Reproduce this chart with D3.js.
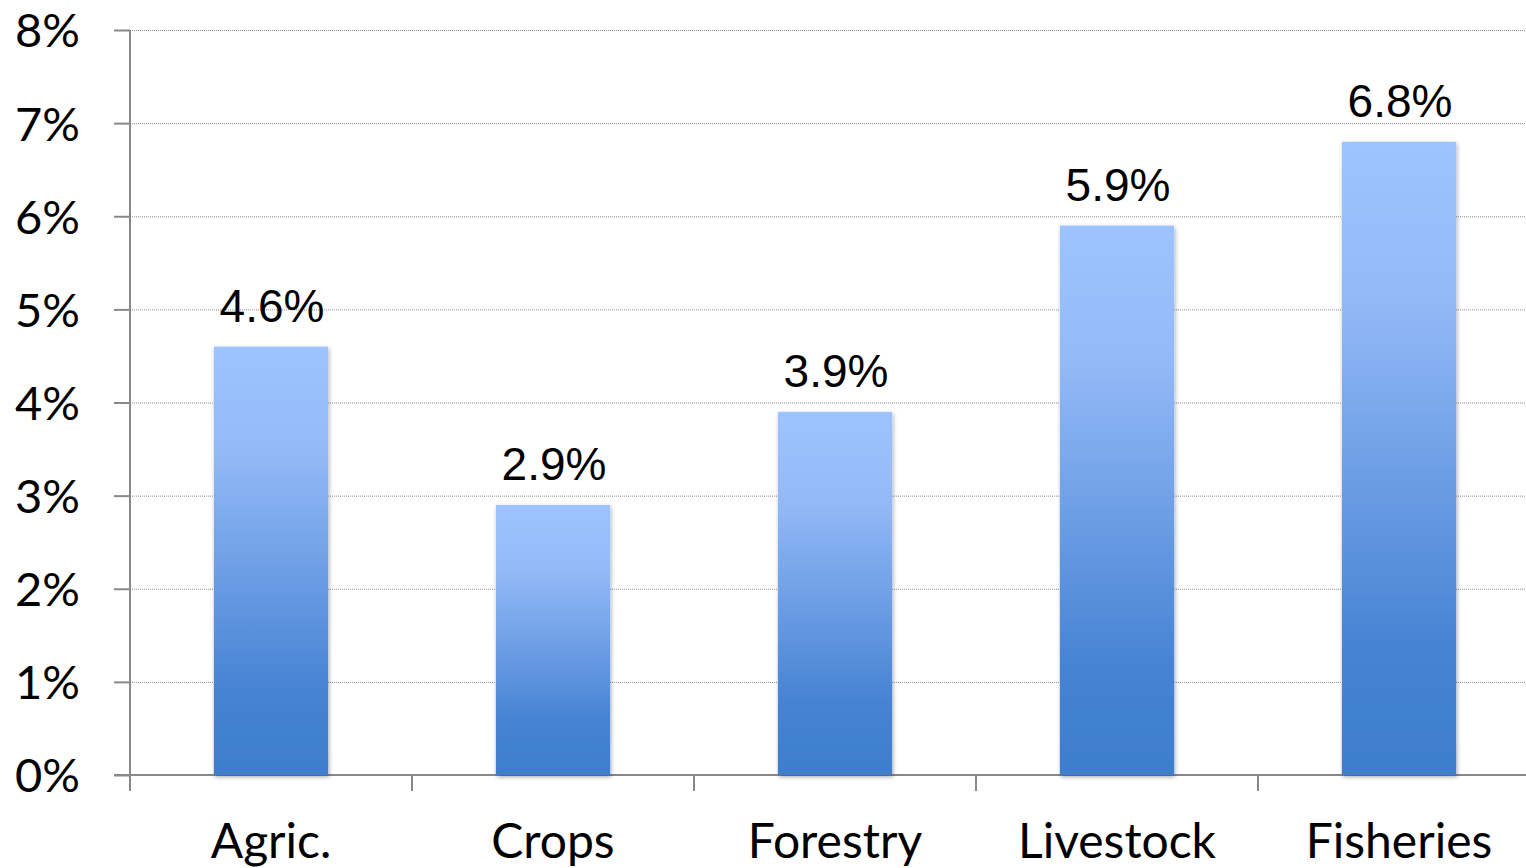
<!DOCTYPE html>
<meta charset="utf-8">
<style>
html, body {
  margin: 0;
  overflow: hidden;
  width: 100%;
  height: 100%;
  background: #fff;
}
.ylab, .xlab {
  font-family: Lato, "Open Sans", sans-serif;
  font-size: 47px;
  fill: #000;
}
.xlab {
  font-size: 48px;
}
.vlab {
  font-family: "Liberation Sans", Arial, sans-serif;
  font-size: 46px;
  fill: #000;
}
</style>
<body>
<script src="https://cdn.jsdelivr.net/npm/d3@7"></script>
<script>
var categories = ["Agric.", "Crops", "Forestry", "Livestock", "Fisheries"];
var growth = [4.6, 2.9, 3.9, 5.9, 6.8];
var yTicks = [0, 1, 2, 3, 4, 5, 6, 7, 8];

var width = 1526, height = 868;
var plotLeft = 130, plotRight = 1540, plotTop = 30, plotBottom = 775;

var svg = d3.select("body").append("svg")
    .attr("width", width)
    .attr("height", height);

var x = d3.scaleBand().domain(categories).range([plotLeft, plotRight]).padding(0);
var y = d3.scaleLinear().domain([0, 8]).range([plotBottom, plotTop]);
var barW = x.bandwidth() * 0.405;

// gradient + shadow for the bars
var defs = svg.append("defs");
var grad = defs.append("linearGradient")
    .attr("id", "barGrad")
    .attr("x1", 0).attr("y1", 0).attr("x2", 0).attr("y2", 1);
grad.append("stop").attr("offset", "0%").attr("stop-color", "#9ec4ff");
grad.append("stop").attr("offset", "25%").attr("stop-color", "#93b9f7");
grad.append("stop").attr("offset", "80%").attr("stop-color", "#4683d3");
grad.append("stop").attr("offset", "100%").attr("stop-color", "#3d7ecd");

var shadow = defs.append("filter").attr("id", "shadow")
    .attr("x", "-10%").attr("y", "-10%").attr("width", "120%").attr("height", "120%");
shadow.append("feGaussianBlur").attr("in", "SourceAlpha").attr("stdDeviation", 2);
shadow.append("feOffset").attr("dx", 1).attr("dy", 2).attr("result", "blur");
shadow.append("feComponentTransfer").append("feFuncA").attr("type", "linear").attr("slope", 0.35);
var merge = shadow.append("feMerge");
merge.append("feMergeNode");
merge.append("feMergeNode").attr("in", "SourceGraphic");

// dotted gridlines
svg.append("g")
  .selectAll("line")
  .data(yTicks.filter(function(d) { return d > 0; }))
  .enter().append("line")
    .attr("x1", plotLeft).attr("x2", width)
    .attr("y1", function(d) { return y(d) + 0.5; })
    .attr("y2", function(d) { return y(d) + 0.5; })
    .attr("stroke", "#8c8c8c")
    .attr("stroke-width", 1)
    .attr("stroke-dasharray", "1,1");

// y axis
var yAxis = svg.append("g")
    .attr("transform", "translate(" + plotLeft + ",0)")
    .call(d3.axisLeft(y).tickValues(yTicks).tickSize(16).tickFormat(function(d) { return d + "%"; }));
yAxis.attr("font-size", null).attr("font-family", null);
yAxis.select(".domain").attr("stroke", "#888").attr("stroke-width", 2)
    .attr("d", "M0," + plotTop + "V" + (plotBottom + 16));
yAxis.selectAll(".tick line").attr("stroke", "#888").attr("stroke-width", 2);
yAxis.selectAll(".tick text")
    .attr("class", "ylab")
    .attr("x", -50)
    .attr("dy", "0.36em");

// x axis
var xAxis = svg.append("g")
    .attr("transform", "translate(0," + plotBottom + ")")
    .call(d3.axisBottom(x).tickSize(0).tickPadding(0));
xAxis.attr("font-size", null).attr("font-family", null);
xAxis.select(".domain").attr("stroke", "#888").attr("stroke-width", 2)
    .attr("d", "M" + (plotLeft - 16) + ",0H" + width);
xAxis.selectAll(".tick text")
    .attr("class", "xlab")
    .attr("y", 83)
    .attr("dy", 0);

// category separator ticks
svg.append("g")
  .selectAll("line")
  .data(categories)
  .enter().append("line")
    .attr("x1", function(d) { return x(d); })
    .attr("x2", function(d) { return x(d); })
    .attr("y1", plotBottom)
    .attr("y2", plotBottom + 16)
    .attr("stroke", "#888")
    .attr("stroke-width", 2);

// bars
svg.append("g")
  .selectAll("rect")
  .data(growth)
  .enter().append("rect")
    .attr("x", function(d, i) { return x(categories[i]) + x.bandwidth() / 2 - barW / 2; })
    .attr("y", function(d) { return y(d); })
    .attr("width", barW)
    .attr("height", function(d) { return plotBottom - y(d); })
    .attr("fill", "url(#barGrad)")
    .attr("filter", "url(#shadow)");

// value labels
svg.append("g")
  .selectAll("text")
  .data(growth)
  .enter().append("text")
    .attr("class", "vlab")
    .attr("text-anchor", "middle")
    .attr("x", function(d, i) { return x(categories[i]) + x.bandwidth() / 2 + 1; })
    .attr("y", function(d) { return y(d) - 25; })
    .text(function(d) { return d.toFixed(1) + "%"; });
</script>
</body>
